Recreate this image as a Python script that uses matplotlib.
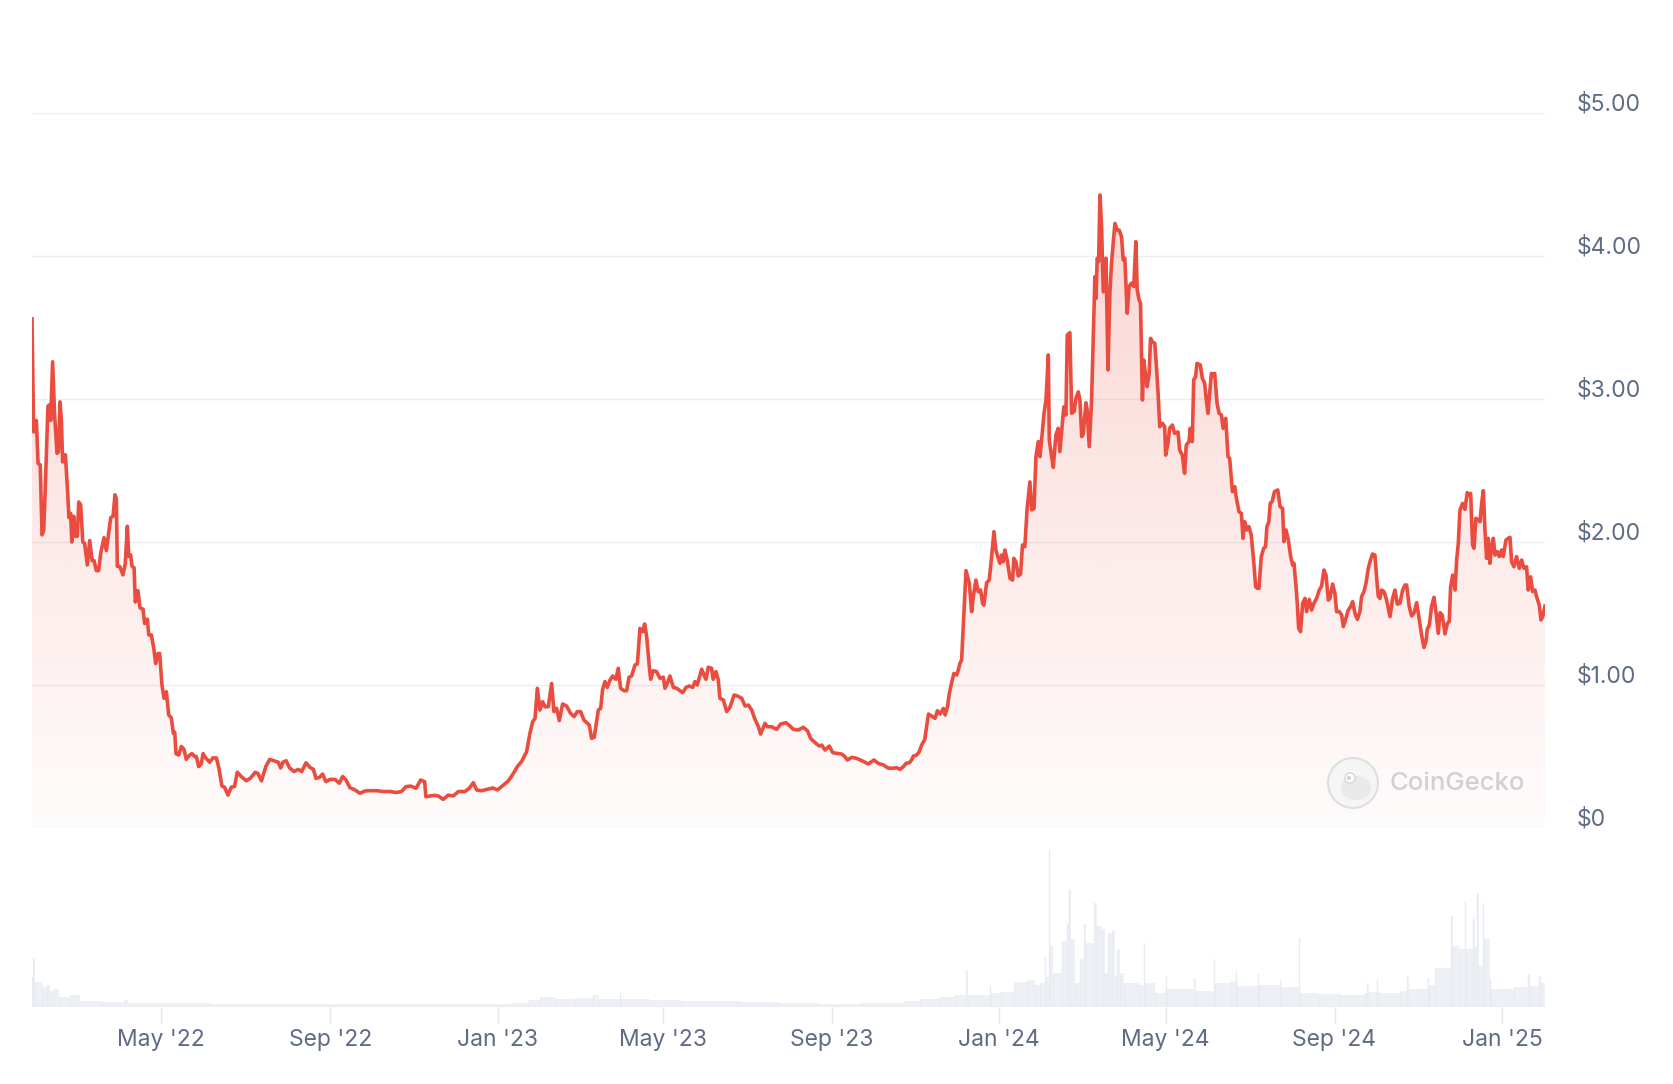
import numpy as np
import pandas as pd
import matplotlib
matplotlib.use('Agg')
import matplotlib.pyplot as plt
from matplotlib.colors import to_rgb
from matplotlib.patches import Circle, Ellipse
from matplotlib.transforms import ScaledTranslation

plt.rcParams['font.family'] = ['Inter', 'DejaVu Sans']

inicio = pd.Timestamp('2022-01-27')
fin_dias = 1101.2

# precio: dias desde el inicio -> USD
precio_dias = [
    0, 1.2, 3.2, 4.4, 6, 7.3, 8.5, 9.7, 11.6, 12.8, 13.6, 15, 16.5, 18.2, 19.2, 20.4, 21.4, 22.3, 24.3, 25.7,
    26.9, 28.1, 29, 30.3, 31.5, 33, 34, 35.4, 37, 38.3, 40.3, 42, 43.7, 45.2, 46.8, 48.5, 50, 52.4, 54.1, 55.8,
    57.3, 59, 60.4, 61.4, 62.1, 63.8, 66.2, 67.9, 69.4, 70.4, 71.8, 72.8, 74.3, 75.2, 77.1, 78.6, 80.8, 82, 84, 85,
    86.9, 88.8, 90, 91.7, 92.9, 94.6, 96.1, 97.8, 99.5, 101.4, 102.9, 103.9, 104.8, 106.8, 108.7, 110.6, 112.3, 114.7, 116.4, 118.4,
    119.6, 121.3, 123.2, 124.5, 126.4, 129.3, 131.7, 134.2, 136, 138.2, 140.2, 142.6, 145, 147.4, 149.4, 152.3, 156, 159.1, 162.5, 164.5,
    167, 170.2, 173, 176.2, 179.2, 181, 182.6, 185, 187.5, 190.7, 193.8, 196.3, 199.4, 202.3, 204.8, 206.7, 209.1, 211.5, 213.9, 216.9,
    220.5, 223.7, 226.1, 228.5, 231.4, 235.1, 238.7, 242.4, 246, 250.9, 255.7, 260.6, 265.4, 269, 272.2, 275.6, 279.5, 282.9, 285.8, 286.7,
    289.7, 292.5, 295.7, 299.3, 302.9, 306.6, 310.3, 315.1, 318.3, 321.2, 323.7, 327.3, 331, 335.4, 338.7, 343.1, 346.7, 350.4, 353.2, 356.3,
    360, 362.4, 364.4, 366.1, 367.8, 369.7, 371.7, 373.4, 375.8, 378.2, 379.9, 381.8, 383.8, 386.2, 389.1, 392, 394.5, 396.9, 399.3, 401.7,
    405.6, 407.3, 409.2, 412.2, 413.9, 415.3, 417, 418.7, 420.7, 422.6, 425, 426.7, 428.4, 430.9, 432.8, 434.5, 436.4, 438.9, 440.6, 442.5,
    444.5, 445.9, 447.4, 449.3, 450.3, 452.2, 454.6, 457, 459.5, 460.7, 462.4, 464.3, 466.8, 469.2, 471.6, 473.6, 476, 478.4, 480.9, 482.5,
    484.2, 487.4, 489.1, 490.5, 492.2, 494.6, 495.8, 497.8, 499.5, 500.7, 503.2, 505.6, 508, 511, 513.4, 516.6, 519, 521.4, 523.8, 526.2,
    528.7, 530.3, 533.5, 535.2, 538.3, 542, 544.9, 548.8, 551.7, 554.1, 557.7, 561.3, 564.3, 566.7, 569.9, 573, 574.8, 577.2, 580.3, 582.8,
    585.6, 589.3, 591.7, 593.4, 596.6, 600.2, 603.9, 608.7, 612.8, 615.9, 619.6, 623.3, 627, 629.3, 631.8, 634.2, 636.2, 638.6, 640.2, 641.5,
    643.9, 645.8, 647.5, 649.8, 651.1, 652.5, 654.8, 657.3, 659, 661, 663.3, 664.6, 666.3, 667.6, 669.3, 671, 673, 674.2, 675.4, 676.6,
    677.8, 679.8, 682.2, 683.9, 685.1, 687, 688.7, 690.4, 691.9, 692.8, 694.8, 696.7, 698.4, 700.1, 701.5, 703.3, 704.5, 705.7, 706.9, 708.1,
    709.8, 711.8, 713.7, 714.6, 716.1, 717.8, 719.5, 720.9, 722.6, 724.3, 726.3, 727.6, 729.3, 730.7, 732.4, 733.6, 734.8, 736.6, 738, 739.7,
    740.4, 742.1, 743.3, 745.2, 746.9, 748.1, 750.1, 751, 752.5, 753.5, 755.4, 756.7, 758.4, 759.8, 761.5, 762.7, 764, 765.1, 767.1, 768,
    769.5, 771.2, 772.4, 773.6, 774.4, 775.3, 776.3, 777.3, 778.5, 779.7, 781.7, 783.1, 784.5, 785.7, 786.9, 788.2, 789.9, 791.3, 793, 794.2,
    795.4, 797.1, 798.5, 800.2, 801.9, 803.4, 804.4, 805.8, 806.8, 808.2, 809.2, 810.7, 811.6, 813.1, 814.1, 815.5, 817.2, 818.4, 819.6, 820.8,
    822.7, 824.4, 825.1, 826.8, 828, 830, 831.6, 834.1, 835.3, 837.2, 838.9, 840.1, 842.1, 843, 844.5, 845.5, 846.9, 847.9, 850.3, 851.8,
    853.5, 854.7, 855.9, 857.1, 858.4, 859.6, 860.8, 862.5, 864, 865.7, 866.9, 868.8, 870.5, 871.7, 873.7, 875.4, 876.6, 878.5, 880.2, 881.4,
    882.6, 884.3, 885.7, 887.4, 889.1, 890.6, 892, 893, 894.7, 896.4, 897.8, 898.8, 900.2, 901.2, 902.6, 904.3, 906.7, 908.4, 910.2, 911.2,
    912.7, 914.4, 916.1, 917.5, 918.5, 919.9, 920.9, 921.9, 923.3, 924.8, 926.5, 927.7, 929.6, 931.3, 933, 935, 936.9, 938.6, 940.3, 941.8,
    943.5, 944.7, 946.6, 948.3, 949.5, 951.5, 953.2, 954.4, 956.3, 958, 959.7, 961.2, 962.9, 964.6, 966.5, 967.7, 969.4, 970.9, 972.6, 974.3,
    975.7, 977.4, 978.7, 979.9, 981.1, 982.3, 984, 985.9, 988.4, 990.3, 992, 993.7, 995.6, 997.6, 999.3, 1000.5, 1002.4, 1004.1, 1005.8, 1007.8,
    1009.7, 1011.4, 1013.1, 1014.6, 1015.5, 1017, 1018.7, 1020.4, 1021.8, 1023.5, 1024.8, 1026.4, 1028.4, 1030.1, 1031.5, 1032.5, 1034, 1035.7, 1036.9, 1038.1,
    1039.3, 1041.2, 1042.9, 1044.6, 1046.1, 1047.1, 1048.5, 1049.5, 1050.9, 1052.6, 1053.9, 1055.1, 1056.3, 1057.5, 1058.7, 1059.9, 1061.1, 1062.4, 1063.6, 1064.8,
    1066.5, 1067.9, 1069.6, 1070.8, 1072.8, 1075.7, 1076.9, 1078.6, 1080.5, 1082.5, 1084.2, 1085.9, 1087.8, 1089, 1090.7, 1092.2, 1093.9, 1095.1, 1097, 1098.3,
    1099.5, 1101.2,
]
precio_usd = [
    3.56, 2.77, 2.85, 2.55, 2.54, 2.05, 2.08, 2.39, 2.95, 2.96, 2.85, 3.26, 2.88, 2.62, 2.63, 2.98, 2.85, 2.56, 2.61, 2.39,
    2.17, 2.2, 2.0, 2.18, 2.04, 2.04, 2.28, 2.26, 2.0, 1.99, 1.84, 2.01, 1.87, 1.87, 1.80, 1.80, 1.92, 2.03, 1.94, 2.06,
    2.17, 2.18, 2.33, 2.30, 1.83, 1.83, 1.77, 1.85, 2.11, 1.90, 1.91, 1.83, 1.82, 1.58, 1.66, 1.54, 1.53, 1.43, 1.46, 1.35,
    1.35, 1.245, 1.15, 1.22, 1.22, 1.0, 0.907, 0.953, 0.79, 0.77, 0.662, 0.67, 0.52, 0.51, 0.57, 0.55, 0.48, 0.51, 0.52, 0.50,
    0.50, 0.43, 0.45, 0.52, 0.49, 0.46, 0.49, 0.49, 0.42, 0.294, 0.285, 0.23, 0.285, 0.29, 0.39, 0.36, 0.33, 0.35, 0.39, 0.38,
    0.33, 0.43, 0.48, 0.47, 0.46, 0.42, 0.46, 0.47, 0.42, 0.395, 0.41, 0.395, 0.456, 0.424, 0.41, 0.347, 0.353, 0.377, 0.324, 0.34,
    0.34, 0.313, 0.36, 0.336, 0.282, 0.266, 0.243, 0.259, 0.261, 0.261, 0.255, 0.255, 0.248, 0.256, 0.289, 0.293, 0.278, 0.336, 0.324, 0.219,
    0.224, 0.228, 0.224, 0.2, 0.23, 0.224, 0.255, 0.255, 0.278, 0.317, 0.266, 0.261, 0.27, 0.28, 0.266, 0.3, 0.329, 0.382, 0.429, 0.464,
    0.534, 0.662, 0.743, 0.766, 0.977, 0.825, 0.883, 0.848, 0.848, 1.01, 0.814, 0.837, 0.751, 0.867, 0.853, 0.802, 0.779, 0.814, 0.814, 0.755,
    0.72, 0.627, 0.634, 0.825, 0.837, 0.969, 1.024, 0.983, 1.035, 1.063, 1.04, 1.117, 0.977, 0.96, 0.96, 1.054, 1.063, 1.14, 1.147, 1.396,
    1.373, 1.427, 1.338, 1.128, 1.04, 1.1, 1.094, 1.047, 1.054, 0.977, 1.012, 1.063, 0.983, 0.977, 0.96, 0.946, 0.983, 0.993, 0.983, 1.024,
    1.0, 1.11, 1.07, 1.04, 1.124, 1.117, 1.04, 1.094, 1.035, 0.907, 0.895, 0.814, 0.844, 0.93, 0.923, 0.907, 0.853, 0.86, 0.825, 0.76,
    0.708, 0.657, 0.732, 0.708, 0.708, 0.69, 0.727, 0.736, 0.713, 0.69, 0.685, 0.704, 0.681, 0.627, 0.597, 0.573, 0.58, 0.545, 0.573, 0.527,
    0.522, 0.517, 0.499, 0.476, 0.494, 0.487, 0.471, 0.448, 0.476, 0.452, 0.441, 0.418, 0.418, 0.422, 0.41, 0.429, 0.452, 0.457, 0.476, 0.503,
    0.51, 0.534, 0.58, 0.619, 0.709, 0.797, 0.783, 0.767, 0.82, 0.797, 0.836, 0.79, 0.848, 0.937, 1.016, 1.081, 1.07, 1.105, 1.152, 1.175,
    1.408, 1.8, 1.711, 1.513, 1.617, 1.734, 1.652, 1.664, 1.571, 1.559, 1.715, 1.734, 1.893, 2.072, 1.944, 1.886, 1.851, 1.909, 1.862, 1.944,
    1.874, 1.746, 1.734, 1.886, 1.862, 1.762, 1.776, 1.979, 1.967, 2.236, 2.42, 2.224, 2.235, 2.597, 2.702, 2.597, 2.713, 2.9, 2.993, 3.308,
    2.713, 2.597, 2.522, 2.748, 2.795, 2.632, 2.853, 2.946, 2.888, 3.448, 3.464, 2.9, 2.911, 3.004, 3.05, 2.993, 2.737, 2.755, 2.974, 2.923,
    2.667, 2.993, 3.413, 3.855, 3.704, 3.984, 3.96, 4.427, 4.193, 3.75, 3.984, 3.203, 3.739, 3.948, 4.088, 4.228, 4.181, 4.181, 4.135, 3.972,
    3.984, 3.6, 3.786, 3.81, 3.786, 4.1, 3.762, 3.692, 3.669, 2.993, 3.273, 3.145, 3.086, 3.179, 3.424, 3.4, 3.389, 3.226, 3.039, 2.806,
    2.83, 2.806, 2.608, 2.69, 2.795, 2.818, 2.76, 2.77, 2.643, 2.608, 2.48, 2.678, 2.702, 2.795, 2.702, 3.133, 3.156, 3.249, 3.238, 3.145,
    3.11, 2.993, 2.9, 3.039, 3.179, 3.168, 3.179, 2.97, 2.9, 2.888, 2.795, 2.865, 2.597, 2.585, 2.352, 2.387, 2.305, 2.212, 2.2, 2.026,
    2.142, 2.084, 2.107, 2.049, 1.874, 1.688, 1.676, 1.676, 1.897, 1.956, 1.967, 2.107, 2.142, 2.27, 2.282, 2.352, 2.364, 2.247, 2.235, 2.003,
    2.084, 2.014, 1.898, 1.839, 1.851, 1.699, 1.571, 1.396, 1.373, 1.571, 1.606, 1.513, 1.599, 1.524, 1.571, 1.606, 1.664, 1.692, 1.804, 1.769,
    1.594, 1.606, 1.706, 1.641, 1.513, 1.513, 1.489, 1.408, 1.466, 1.524, 1.548, 1.583, 1.501, 1.459, 1.513, 1.618, 1.653, 1.711, 1.816, 1.878,
    1.916, 1.909, 1.746, 1.618, 1.606, 1.664, 1.653, 1.594, 1.478, 1.606, 1.664, 1.566, 1.571, 1.664, 1.699, 1.699, 1.548, 1.483, 1.501, 1.576,
    1.455, 1.349, 1.262, 1.303, 1.389, 1.419, 1.552, 1.613, 1.513, 1.361, 1.506, 1.489, 1.357, 1.431, 1.443, 1.687, 1.769, 1.664, 1.874, 1.991,
    2.224, 2.27, 2.228, 2.345, 2.329, 2.34, 1.979, 1.956, 2.166, 2.154, 2.142, 2.27, 2.359, 2.084, 1.886, 2.026, 1.851, 1.968, 2.026, 1.909,
    1.933, 1.898, 1.944, 1.898, 2.014, 2.033, 1.862, 1.827, 1.898, 1.816, 1.874, 1.816, 1.827, 1.664, 1.757, 1.653, 1.664, 1.618, 1.559, 1.455,
    1.478, 1.552,
]

# volumen (relativo), dias desde el inicio
vol_dias = [0, 1, 2, 8, 11, 13, 16, 20, 28, 35, 50, 68, 70, 86, 130, 350, 362, 370, 381, 395,
            408, 413, 428, 429, 450, 472, 493, 515, 544, 573, 603, 635, 646, 661, 672, 680, 681, 697, 698, 705,
            715, 725, 730, 734, 737, 738, 740, 741, 743, 750, 753, 755, 756, 759, 763, 766, 767, 773, 775, 779,
            781, 783, 786, 788, 790, 792, 795, 806, 809, 810, 817, 825, 826, 846, 847, 860, 861, 873, 876, 877,
            892, 893, 908, 909, 922, 923, 937, 952, 970, 972, 973, 979, 980, 996, 1001, 1002, 1016, 1017, 1021, 1033,
            1034, 1039, 1043, 1044, 1049, 1050, 1052, 1053, 1056, 1057, 1061, 1062, 1079, 1089, 1090, 1097, 1098, 1101.2]
vol_valores = [30, 49, 25, 20, 22, 16, 18, 10, 12, 6, 5, 7, 4, 4, 3, 4, 7, 10, 8, 9,
               12, 8, 15, 8, 7, 6, 6, 5, 4, 3, 4, 6, 8, 10, 12, 37, 12, 22, 14, 15,
               25, 27, 22, 24, 51, 30, 158, 61, 34, 66, 84, 118, 68, 24, 48, 83, 64, 104, 81, 78,
               34, 74, 76, 31, 58, 34, 24, 22, 64, 24, 14, 31, 18, 29, 16, 48, 24, 26, 36, 21,
               33, 22, 28, 20, 69, 14, 13, 12, 14, 24, 15, 28, 14, 16, 31, 18, 29, 22, 39, 91,
               61, 58, 106, 58, 88, 60, 114, 41, 104, 68, 28, 18, 20, 33, 21, 31, 24, 24]

y_ticks = [0, 1, 2, 3, 4, 5]
y_labels = ['$0', '$1.00', '$2.00', '$3.00', '$4.00', '$5.00']
x_fechas = ['2022-05-01', '2022-09-01', '2023-01-01', '2023-05-01', '2023-09-01',
            '2024-01-01', '2024-05-01', '2024-09-01', '2025-01-01']
x_labels = ["May '22", "Sep '22", "Jan '23", "May '23", "Sep '23", "Jan '24", "May '24", "Sep '24", "Jan '25"]

color_linea = '#ea4c3f'
color_texto = '#5f6b85'
W, H = 1674, 1084

fig = plt.figure(figsize=(W / 100, H / 100), dpi=100)
fig.patch.set_facecolor('white')

# panel de precio
ax = fig.add_axes([32 / W, (H - 828) / H, (1545 - 32) / W, 715 / H])
x = np.array(precio_dias)
y = np.array(precio_usd)
poly = ax.fill_between(x, y, 0, color='none', lw=0)

# degradado rojo -> blanco debajo de la linea
v = np.linspace(0, 5, 256)
grad = np.zeros((256, 1, 4))
grad[:, 0, :3] = to_rgb(color_linea)
grad[:, 0, 3] = np.clip(0.02 + 0.048 * v, 0, 1)
im = ax.imshow(grad, extent=[0, fin_dias, 0, 5], origin='lower', aspect='auto', zorder=1, interpolation='bilinear')
im.set_clip_path(poly.get_paths()[0], transform=ax.transData)

ax.plot(x, y, color=color_linea, lw=2.6, solid_joinstyle='round', zorder=3)
ax.set_xlim(0, fin_dias)
ax.set_ylim(0, 5)
ax.set_yticks(y_ticks)
ax.set_yticklabels(y_labels)
ax.yaxis.tick_right()
ax.tick_params(axis='y', length=0, pad=23, labelsize=16.5, labelcolor=color_texto)
ax.tick_params(axis='x', bottom=False, labelbottom=False)
desplazar = ScaledTranslation(0, 11 / 100, fig.dpi_scale_trans)
for lab in ax.get_yticklabels():
    lab.set_transform(lab.get_transform() + desplazar)
ax.grid(axis='y', color='#eceef2', lw=1.0)
ax.set_axisbelow(True)
for s in ax.spines.values():
    s.set_visible(False)
ax.patch.set_alpha(0)

# panel de volumen
ax_v = fig.add_axes([32 / W, (H - 1007) / H, (1545 - 32) / W, 170 / H])
ax_v.fill_between(vol_dias, vol_valores, 0, step='post', color='#edf0f4', lw=0)
ax_v.vlines(vol_dias, 0, vol_valores, color='#e8ebf0', lw=1.0)
ax_v.axhline(0, color='#eceef2', lw=1.5)
ax_v.set_xlim(0, fin_dias)
ax_v.set_ylim(0, 170)
ax_v.set_yticks([])
tick_dias = [(pd.Timestamp(f) - inicio).days for f in x_fechas]
ax_v.set_xticks(tick_dias)
ax_v.set_xticklabels(x_labels)
ax_v.tick_params(axis='x', length=12, width=1.0, color='#e6e8ec', pad=4, labelsize=16.5, labelcolor=color_texto)
for s in ax_v.spines.values():
    s.set_visible(False)
ax_v.patch.set_alpha(0)

# marca de agua
ax_o = fig.add_axes([0, 0, 1, 1])
ax_o.set_xlim(0, W)
ax_o.set_ylim(H, 0)
ax_o.axis('off')
ax_o.add_patch(Circle((1353, 783), 25, fc='#f5f5f5', ec='#dddddd', lw=1.5, alpha=0.9))
ax_o.add_patch(Ellipse((1356, 788), 30, 24, fc='#e8e8e8', ec='none', alpha=0.9))
ax_o.add_patch(Circle((1350, 778), 5, fc='white', ec='#d5d5d5', lw=1))
ax_o.add_patch(Circle((1349, 778), 2, fc='#cfcfcf', ec='none'))
ax_o.text(1390, 783, 'CoinGecko', ha='left', va='center', fontsize=18.5, color='#d0d0d0', fontweight='medium')

fig.savefig('out.png', dpi=100, facecolor='white')
